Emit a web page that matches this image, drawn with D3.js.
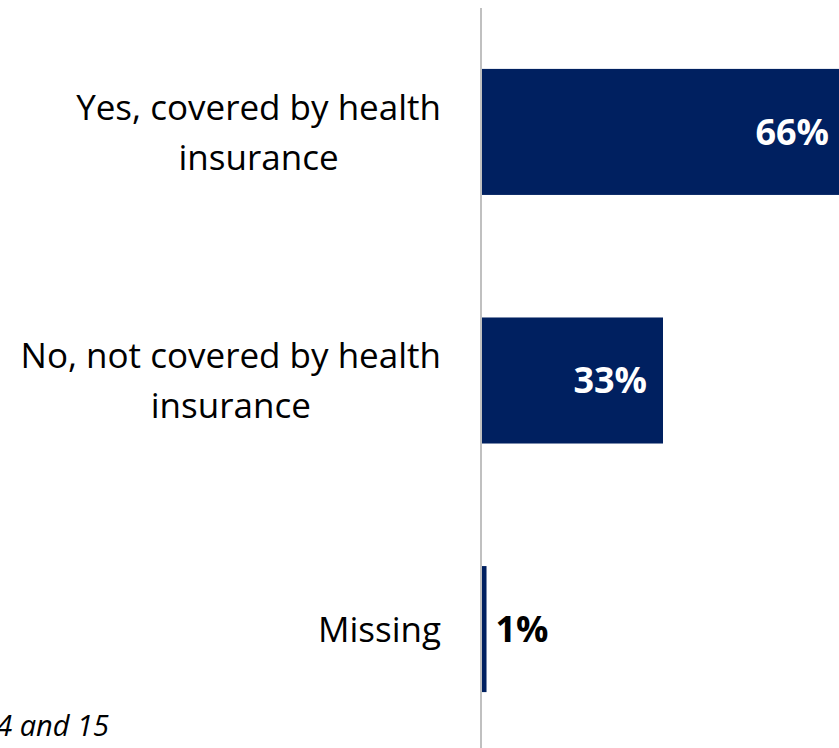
<!DOCTYPE html>
<html>
<head>
<meta charset="utf-8">
<script src="https://cdn.jsdelivr.net/npm/d3@7"></script>
<style>
  html, body { margin: 0; padding: 0; background: #fff; }
  svg { display: block; font-family: "Open Sans", "Noto Sans", sans-serif; }
</style>
</head>
<body>
<script>
// Health insurance coverage — share of respondents
const categories = [
  ["Yes, covered by health", "insurance"],
  ["No, not covered by health", "insurance"],
  ["Missing"]
];
const values = [66, 33, 1];
const valueLabels = ["66%", "33%", "1%"];
const footnote = "Questions 14 and 15";

const W = 839, H = 748;
const svg = d3.select("body").append("svg").attr("width", W).attr("height", H);

const keys = d3.range(categories.length);
const y = d3.scaleBand().domain(keys).range([8, 753]).paddingInner(0.493).paddingOuter(0.245);
const x = d3.scaleLinear().domain([0, 100]).range([481, 481 + 551.5]);

// bars
svg.selectAll("rect.bar").data(keys).join("rect")
  .attr("class", "bar")
  .attr("x", x(0))
  .attr("y", i => y(i))
  .attr("width", i => x(values[i]) - x(0))
  .attr("height", y.bandwidth())
  .attr("fill", "#002060");

// baseline axis
svg.append("line")
  .attr("x1", x(0)).attr("x2", x(0))
  .attr("y1", 8).attr("y2", H)
  .attr("stroke", "#c0c0c0").attr("stroke-width", 2);

// category labels: a block right-aligned to the axis, lines centred within it
const lineH = 50, labelRight = 441;
svg.selectAll("text.cat").data(keys).join("text")
  .attr("class", "cat")
  .attr("font-size", 35)
  .attr("fill", "#000")
  .each(function(i) {
    const t = d3.select(this);
    const lines = categories[i];
    const cy = y(i) + y.bandwidth() / 2;
    const first = cy - (lines.length - 1) * lineH / 2;
    const spans = t.selectAll("tspan").data(lines).join("tspan")
      .attr("y", (d, k) => first + k * lineH)
      .attr("dy", "0.36em")
      .text(d => d);
    let maxW = 0;
    spans.each(function() { maxW = Math.max(maxW, this.getComputedTextLength()); });
    spans.attr("text-anchor", "middle").attr("x", labelRight - maxW / 2);
  });

// value labels: inside the bar end when it fits, else just outside
svg.selectAll("text.val").data(keys).join("text")
  .attr("class", "val")
  .attr("font-size", 36)
  .attr("font-weight", 700)
  .attr("y", i => y(i) + y.bandwidth() / 2)
  .attr("dy", "0.36em")
  .each(function(i) {
    const inside = values[i] > 10;
    d3.select(this)
      .attr("text-anchor", inside ? "end" : "start")
      .attr("x", inside ? x(values[i]) - 16 : x(values[i]) + 9)
      .attr("fill", inside ? "#fff" : "#000")
      .text(valueLabels[i]);
  });

// source note
svg.append("text")
  .attr("x", 109).attr("y", 736)
  .attr("text-anchor", "end")
  .attr("font-size", 29)
  .attr("font-style", "italic")
  .attr("fill", "#000")
  .text(footnote);
</script>
</body>
</html>
